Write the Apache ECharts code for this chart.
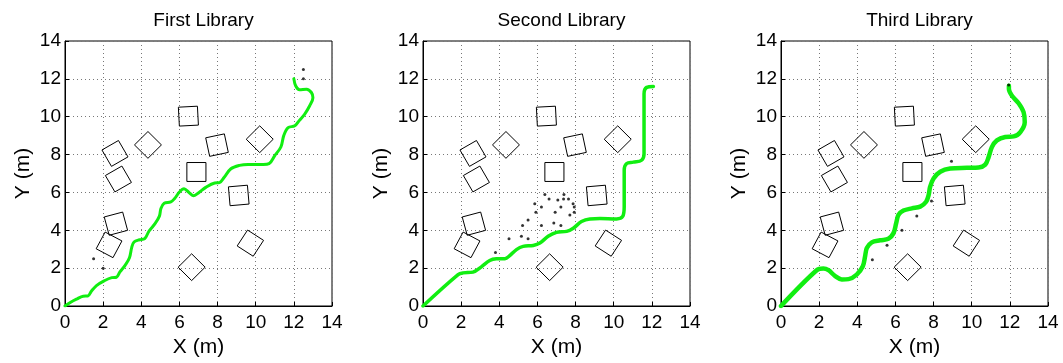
<!DOCTYPE html>
<html>
<head>
<meta charset="utf-8">
<script src="https://cdn.jsdelivr.net/npm/echarts@6/dist/echarts.min.js"></script>
<style>
  html, body { margin: 0; padding: 0; background: #fff; }
  #chart { width: 1063px; height: 363px; }
</style>
</head>
<body>
<div id="chart"></div>
<script>
// Panel titles
const titles = ['First Library', 'Second Library', 'Third Library'];

// Axis ticks (metres)
const axisMin = 0, axisMax = 14, axisStep = 2;

// Obstacles: centre x, centre y, rotation (degrees, counter-clockwise), side length
const obsX = [2.62, 2.80, 2.67, 2.31, 4.35, 6.47, 6.89, 7.97, 10.21, 9.11, 9.72, 6.64];
const obsY = [8.06, 6.71, 4.35, 3.23, 8.51, 10.03, 7.08, 8.50, 8.81, 5.84, 3.32, 2.05];
const obsAngle = [30, 30, 15, -28, 45, 3, 0, 12, 45, 5, -33, 45];
const obsSide = [1, 1, 1, 1, 1, 1, 1, 1, 1, 1, 1, 1];

// Robot trajectories
const path1 = [[0,0],[0.3,0.2],[0.6,0.36],[0.95,0.52],[1.2,0.53],[1.38,0.78],[1.65,1.08],[2.05,1.33],[2.45,1.5],[2.7,1.52],[2.88,1.8],[3.15,2.15],[3.38,2.55],[3.5,3.1],[3.62,3.38],[3.9,3.5],[4.18,3.56],[4.4,3.95],[4.72,4.35],[4.95,4.75],[5.03,5.15],[5.2,5.43],[5.55,5.5],[5.75,5.68],[6.0,6.02],[6.24,6.19],[6.5,6.0],[6.75,5.82],[7.03,6.0],[7.4,6.28],[7.85,6.5],[8.1,6.52],[8.35,6.8],[8.7,7.25],[9.15,7.43],[9.6,7.48],[10.4,7.48],[10.7,7.52],[11.0,7.95],[11.32,8.4],[11.47,9.0],[11.7,9.42],[12.05,9.52],[12.27,9.78],[12.57,10.14],[12.83,10.58],[13.0,11.0],[12.92,11.28],[12.66,11.45],[12.3,11.42],[12.1,11.62],[12.0,12.0]];
const path2 = [[0,0],[1.84,1.66],[2.1,1.75],[2.62,1.79],[3.06,2.07],[3.5,2.4],[3.85,2.49],[4.29,2.5],[4.55,2.66],[4.9,2.98],[5.25,3.15],[5.78,3.2],[6.13,3.33],[6.56,3.68],[7.0,3.89],[7.53,3.94],[7.88,4.11],[8.31,4.46],[8.75,4.6],[9.28,4.62],[10.15,4.6],[10.47,4.73],[10.55,5.25],[10.55,7.18],[10.68,7.53],[11.03,7.6],[11.46,7.7],[11.59,8.05],[11.59,11.2],[11.73,11.55],[12.08,11.6]];
const path3 = [[0,0],[1.87,1.89],[2.22,1.98],[2.49,1.89],[2.84,1.58],[3.19,1.4],[3.54,1.42],[3.97,1.66],[4.29,2.1],[4.41,2.63],[4.5,3.06],[4.76,3.36],[5.2,3.47],[5.63,3.55],[5.9,3.85],[6.04,4.38],[6.16,4.81],[6.42,5.04],[6.86,5.16],[7.3,5.25],[7.61,5.51],[7.74,5.86],[7.82,6.3],[8.0,6.74],[8.35,7.09],[8.87,7.26],[9.75,7.3],[10.36,7.32],[10.71,7.47],[10.89,7.88],[11.06,8.4],[11.32,8.75],[11.76,8.93],[12.2,8.96],[12.55,9.19],[12.78,9.71],[12.72,10.24],[12.46,10.71],[12.11,11.11],[11.95,11.46],[11.95,11.64]];

// Sampled points
const dots1 = [[1.5,2.5],[2.0,2.0],[12.5,12.5],[12.5,12.0]];
const dots2 = [[3.8,2.83],[4.51,3.55],[5.16,3.68],[5.51,3.55],[5.22,4.25],[5.51,4.55],[5.92,4.95],[5.86,5.4],[6.21,5.23],[6.21,4.25],[6.39,5.89],[6.61,5.65],[6.86,4.39],[6.93,4.95],[7.07,5.6],[7.23,5.23],[7.23,4.25],[7.37,5.65],[7.39,5.89],[7.63,5.65],[7.7,4.81],[7.87,5.4],[7.93,5.23],[7.93,4.95]];
const dots3 = [[4.79,2.44],[5.56,3.21],[6.34,4.0],[7.12,4.76],[7.89,5.55],[8.94,7.65],[11.94,11.67]];

const paths = [path1, path2, path3];
const dots = [dots1, dots2, dots3];
const pathWidths = [3, 3.5, 4.5];
const gridLefts = [65, 423, 781];
const plotW = 267, plotH = 266, plotTop = 41;

const obstacleData = obsX.map((x, i) => [x, obsY[i], obsAngle[i], obsSide[i]]);

function renderSquare(params, api) {
  const cx = api.value(0), cy = api.value(1);
  const a = api.value(2) * Math.PI / 180;
  const h = api.value(3) / 2;
  const corners = [[-h, -h], [h, -h], [h, h], [-h, h]].map(([u, v]) =>
    api.coord([cx + u * Math.cos(a) - v * Math.sin(a), cy + u * Math.sin(a) + v * Math.cos(a)])
  );
  return {
    type: 'polygon',
    shape: { points: corners },
    style: { fill: 'none', stroke: '#000', lineWidth: 1 }
  };
}

const font = 'Liberation Sans, Arial, Helvetica, sans-serif';
const grid = [], xAxis = [], yAxis = [], series = [], title = [];

for (let i = 0; i < 3; i++) {
  grid.push({ left: gridLefts[i], top: plotTop, width: plotW, height: plotH,
    show: true, borderColor: '#000', borderWidth: 1, backgroundColor: '#fff' });
  title.push({ text: titles[i], left: gridLefts[i] + plotW / 2, top: 6, textAlign: 'center',
    textStyle: { fontFamily: font, fontSize: 19, fontWeight: 'normal', color: '#000' } });
  const common = {
    gridIndex: i, type: 'value', min: axisMin, max: axisMax, interval: axisStep,
    nameLocation: 'middle',
    nameTextStyle: { fontFamily: font, fontSize: 21, color: '#000' },
    axisLine: { show: true, onZero: false, lineStyle: { color: '#000', width: 1 } },
    axisTick: { show: true, inside: true, length: 4, lineStyle: { color: '#000' } },
    axisLabel: { fontFamily: font, fontSize: 19, color: '#000' },
    splitLine: { show: true, lineStyle: { color: '#777', width: 1, type: [1, 3] } }
  };
  xAxis.push(Object.assign({}, common, { name: 'X (m)', nameGap: 31,
    axisLabel: Object.assign({}, common.axisLabel, { margin: 7 }) }));
  yAxis.push(Object.assign({}, common, { name: 'Y (m)', nameGap: 31,
    axisLabel: Object.assign({}, common.axisLabel, { margin: 4 }) }));

  series.push({
    type: 'custom', xAxisIndex: i, yAxisIndex: i, renderItem: renderSquare,
    data: obstacleData, silent: true, z: 2
  });
  series.push({
    type: 'line', xAxisIndex: i, yAxisIndex: i, data: paths[i], smooth: 0.35,
    showSymbol: false, lineStyle: { color: '#11ee11', width: pathWidths[i], cap: 'round', join: 'round' },
    silent: true, z: 3
  });
  series.push({
    type: 'scatter', xAxisIndex: i, yAxisIndex: i, data: dots[i], symbolSize: 3,
    itemStyle: { color: '#000' }, silent: true, z: 4
  });
}

const chart = echarts.init(document.getElementById('chart'), null, { renderer: 'canvas' });
chart.setOption({ animation: false, backgroundColor: '#fff', title, grid, xAxis, yAxis, series });
</script>
</body>
</html>
